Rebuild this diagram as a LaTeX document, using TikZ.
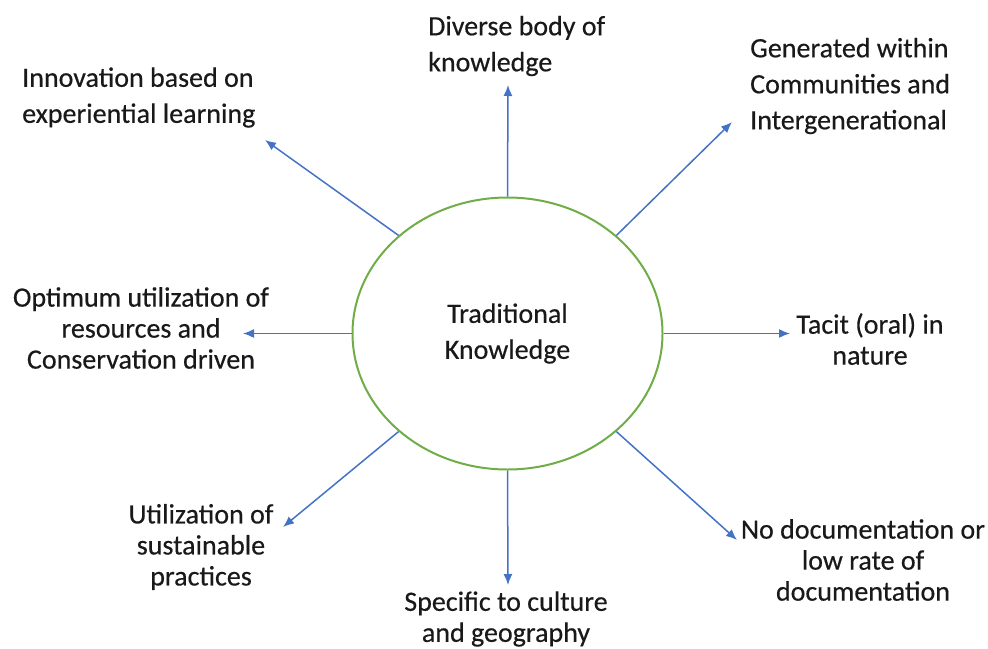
\documentclass[tikz,border=0pt]{standalone}
\usepackage{fontspec}
\setmainfont[FakeBold=0.4]{Carlito}
\usetikzlibrary{arrows.meta,positioning,shapes.geometric}

\definecolor{tkgreen}{RGB}{112,173,71}
\definecolor{tkblue}{RGB}{68,114,196}

\begin{document}
\begin{tikzpicture}[
    x=1pt, y=-1pt,
    core/.style={draw=tkgreen, line width=2pt, ellipse, minimum width=310pt,
      minimum height=272pt, inner sep=0pt, align=center},
    trait/.style={inner sep=0pt, text=black!90, font=\fontsize{28}{31}\selectfont},
    wide/.style={font=\fontsize{28}{36}\selectfont},
    arrow/.style={-{Latex[length=11pt,width=9pt]}, draw=tkblue, line width=1.5pt}
  ]
    \useasboundingbox (0,0) rectangle (988,648);

    \node[core, font=\fontsize{28}{36}\selectfont, text=black!90] (tk) at (507.5,333.5) {Traditional\\Knowledge};

    % features around the ellipse
    \node[trait, wide, align=left, anchor=west] (diverse) at (428,46) {Diverse body of\\knowledge};
    \node[trait, wide, align=left, anchor=west] (generated) at (750,86) {Generated within\\Communities and\\Intergenerational};
    \node[trait, align=center] (tacit) at (870,339) {Tacit (oral) in\\nature};
    \node[trait, align=center] (nodoc) at (863,560) {No documentation or\\low rate of\\documentation};
    \node[trait, align=center] (specific) at (506,619) {Specific to culture\\and geography};
    \node[trait, align=center] (util) at (201,547) {Utilization of\\sustainable\\practices};
    \node[trait, align=center] (optimum) at (141,328) {Optimum utilization of\\resources and\\Conservation driven};
    \node[trait, wide, align=left, anchor=west] (innov) at (22,97.5) {Innovation based on\\experiential learning};

    % arrow tips
    \coordinate (toDiverse) at (508,85);
    \coordinate (toGenerated) at (732,122);
    \coordinate (toTacit) at (790,333.5);
    \coordinate (toNodoc) at (737,540);
    \coordinate (toSpecific) at (508,585);
    \coordinate (toUtil) at (283,527);
    \coordinate (toOptimum) at (243,333.5);
    \coordinate (toInnov) at (265,140);

    \draw[arrow] (tk.north) -- (toDiverse);
    \draw[arrow] (tk.42) -- (toGenerated);
    \draw[arrow] (tk.east) -- (toTacit);
    \draw[arrow] (tk.-42) -- (toNodoc);
    \draw[arrow] (tk.south) -- (toSpecific);
    \draw[arrow] (tk.222) -- (toUtil);
    \draw[arrow] (tk.west) -- (toOptimum);
    \draw[arrow] (tk.138) -- (toInnov);
\end{tikzpicture}
\end{document}
